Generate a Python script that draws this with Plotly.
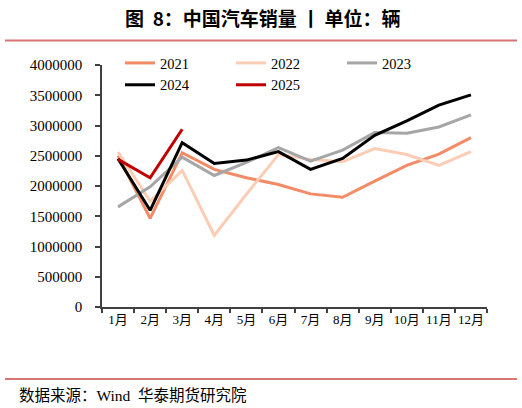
import plotly.graph_objects as go

months = ["1月", "2月", "3月", "4月", "5月", "6月", "7月", "8月", "9月", "10月", "11月", "12月"]
y2021 = [2500000, 1466000, 2550000, 2274000, 2136000, 2025000, 1870000, 1814000, 2080000, 2340000, 2528000, 2800000]
y2022 = [2560000, 1748000, 2257000, 1183000, 1864000, 2520000, 2440000, 2400000, 2620000, 2520000, 2340000, 2567000]
y2023 = [1655000, 1987000, 2478000, 2174000, 2390000, 2634000, 2412000, 2594000, 2883000, 2871000, 2976000, 3175000]
y2024 = [2451000, 1598000, 2717000, 2373000, 2428000, 2568000, 2274000, 2456000, 2838000, 3076000, 3336000, 3507000]
y2025 = [2440000, 2136000, 2938000]

series = [
    ("2021", y2021, "#F28B66"),
    ("2022", y2022, "#FCCDB5"),
    ("2023", y2023, "#A6A6A6"),
    ("2024", y2024, "#000000"),
    ("2025", y2025, "#C00000"),
]

fig = go.Figure()
for name, vals, color in series:
    fig.add_trace(go.Scatter(
        x=months[:len(vals)], y=vals, name=name, mode="lines",
        line=dict(color=color, width=3),
    ))

W, H = 522, 408
L, R, T, B = 102, 35, 65, 101
PW, PH = W - L - R, H - T - B


def px_x(x):
    return (x - L) / PW


def px_y(y):
    return (H - B - y) / PH


fig.update_layout(
    width=W, height=H,
    margin=dict(l=L, r=R, t=T, b=B, autoexpand=False),
    paper_bgcolor="white", plot_bgcolor="white",
    font=dict(family="Liberation Serif, Noto Sans CJK SC", size=13, color="#000000"),
    showlegend=True,
    legend=dict(
        orientation="h", x=px_x(120), y=px_y(47), xanchor="left", yanchor="top",
        entrywidth=66, entrywidthmode="pixels",
        font=dict(family="Liberation Serif", size=14.5, color="#000000"),
        bgcolor="rgba(0,0,0,0)", tracegroupgap=0,
    ),
    xaxis=dict(
        type="category", categoryorder="array", categoryarray=months,
        range=[-0.5, 11.5],
        showline=True, linecolor="#404040", linewidth=1.5,
        ticks="outside", tickson="boundaries", ticklen=4, tickcolor="#404040", tickwidth=1.5,
        showgrid=False, zeroline=False, tickangle=0,
        tickfont=dict(family="Liberation Serif, Noto Sans CJK SC", size=13),
        fixedrange=True,
    ),
    yaxis=dict(
        range=[0, 4000000], tick0=0, dtick=500000,
        tickformat="d",
        showline=True, linecolor="#404040", linewidth=1.5,
        ticks="outside", ticklen=5, tickcolor="#404040", tickwidth=1.5,
        showgrid=False, zeroline=False, ticklabelstandoff=10,
        tickfont=dict(family="Liberation Serif", size=15),
        fixedrange=True,
    ),
    shapes=[
        dict(type="line", xref="paper", yref="paper",
             x0=px_x(5), x1=px_x(517), y0=px_y(40.5), y1=px_y(40.5),
             line=dict(color="#D87474", width=2)),
        dict(type="line", xref="paper", yref="paper",
             x0=px_x(5), x1=px_x(517), y0=px_y(379), y1=px_y(379),
             line=dict(color="#D87474", width=2)),
    ],
    annotations=[
        dict(text="<b>图  8：中国汽车销量 丨 单位：辆</b>", xref="paper", yref="paper",
             x=px_x(262), y=px_y(17),
             xanchor="center", yanchor="middle", showarrow=False,
             font=dict(family="Noto Sans CJK SC", size=19, color="#000000")),
        dict(text="数据来源：Wind  华泰期货研究院", xref="paper", yref="paper",
             x=px_x(17), y=px_y(395),
             xanchor="left", yanchor="middle", showarrow=False,
             font=dict(family="Liberation Serif, Noto Sans CJK SC", size=15.5, color="#000000")),
    ],
)

fig.write_html("out.html", config={"displayModeBar": False},
               post_script="document.body.style.margin='0';document.body.style.padding='0';")
